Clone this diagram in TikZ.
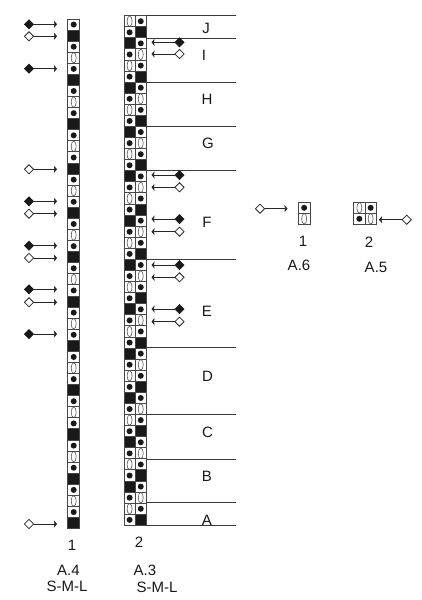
\documentclass[tikz,border=0pt]{standalone}
\usepackage{fontspec}
\setmainfont{Liberation Sans}
\usetikzlibrary{arrows.meta,shapes.geometric}
\tikzset{
  cellbox/.style={draw=black!72,line width=1pt},
  blackcell/.style={cellbox,fill=black!90},
  dotmark/.style={fill=black!90,draw=none},
  ovalmark/.style={draw=black!65,line width=0.6pt},
  band/.style={draw=black!78,line width=1pt},
  solidd/.style={diamond,aspect=1,draw=black!90,fill=black!90,line width=0.5pt,inner sep=0pt,minimum size=9.5pt},
  hollowd/.style={diamond,aspect=1,draw=black!85,fill=white,line width=0.8pt,inner sep=0pt,minimum size=9.5pt},
  pointer/.style={draw=black!85,line width=1pt,-{Stealth[length=3pt,width=7pt,inset=0.5pt]},shorten <=-0.3pt},
  txt/.style={inner sep=0pt,font=\fontsize{15pt}{15pt}\selectfont,text=black!90},
}
% \cellat{x}{y}{w}{h}{kind} kind: 0 dot, 1 black, 2 oval
\newcommand{\cellat}[5]{%
  \ifnum#5=1
    \path[blackcell] (#1,#2) rectangle ++(#3,#4);
  \else
    \path[cellbox,fill=white] (#1,#2) rectangle ++(#3,#4);
    \ifnum#5=0
      \path[dotmark] (#1+#3/2,#2+#4/2) circle (3pt);
    \else
      \path[ovalmark] (#1+#3/2,#2+#4/2) ellipse (2.5pt and 5.3pt);
    \fi
  \fi}
\begin{document}
\begin{tikzpicture}[x=1pt,y=-1pt]
\path[use as bounding box,fill=white] (0,0) rectangle (422,600);
% column 1 (A.4)
\pgfmathsetmacro{\hh}{11.08}
\foreach \i in {0,...,45}{
  \pgfmathtruncatemacro{\m}{mod(\i,4)}
  \pgfmathsetmacro{\yy}{19+\i*\hh}
  \ifnum\m=0 \cellat{67.7}{\yy}{12}{\hh}{0}\fi
  \ifnum\m=1 \cellat{67.7}{\yy}{12}{\hh}{1}\fi
  \ifnum\m=2 \cellat{67.7}{\yy}{12}{\hh}{0}\fi
  \ifnum\m=3 \cellat{67.7}{\yy}{12}{\hh}{2}\fi
}
% column 2 (A.3)
\foreach \i in {0,...,45}{
  \pgfmathtruncatemacro{\m}{mod(\i,4)}
  \pgfmathsetmacro{\yy}{15.7+\i*\hh}
  \ifnum\m=0 \cellat{124}{\yy}{11.2}{\hh}{2}\cellat{135.2}{\yy}{11.1}{\hh}{0}\fi
  \ifnum\m=1 \cellat{124}{\yy}{11.2}{\hh}{0}\cellat{135.2}{\yy}{11.1}{\hh}{1}\fi
  \ifnum\m=2 \cellat{124}{\yy}{11.2}{\hh}{1}\cellat{135.2}{\yy}{11.1}{\hh}{0}\fi
  \ifnum\m=3 \cellat{124}{\yy}{11.2}{\hh}{0}\cellat{135.2}{\yy}{11.1}{\hh}{2}\fi
}
% band rules
\foreach \y in {15.7,38,82,126.7,170.7,259.3,347.7,414.3,459,502.7,525.7}
  \draw[band] (146.3,\y) -- (236,\y);
% band letters
\foreach \l/\x/\y in {J/206/28,I/204/55,H/207/99,G/208/143,F/207/222,E/207/311,D/207.5/376,C/207.5/432,B/207/476,A/207/520}
  \node[txt] at (\x,\y) {\l};
% left pointers
\foreach \n/\y/\k in {a/24.3/solidd,b/36.3/hollowd,c/68.7/solidd,d/169.3/hollowd,e/201.3/solidd,f/213.7/hollowd,g/245.7/solidd,h/258/hollowd,i/289.3/solidd,j/302.3/hollowd,k/334/solidd,l/524/hollowd}{
  \node[\k] (L\n) at (29,\y) {};
  \coordinate (LT\n) at (57,\y);
  \draw[pointer] (L\n) -- (LT\n);
}
% right pointers
\foreach \n/\y/\k in {a/42.3/solidd,b/54/hollowd,c/175/solidd,d/187.3/hollowd,e/219/solidd,f/231.7/hollowd,g/265/solidd,h/277.3/hollowd,i/309/solidd,j/321.7/hollowd}{
  \node[\k] (R\n) at (179.5,\y) {};
  \coordinate (RT\n) at (151.5,\y);
  \draw[pointer] (R\n) -- (RT\n);
}
% A.6
\cellat{298.3}{202.3}{11.7}{11}{0}
\cellat{298.3}{213.3}{11.7}{11}{2}
\node[hollowd] (s1) at (260,208.7) {};
\coordinate (s1t) at (287.5,208.7);
\draw[pointer] (s1) -- (s1t);
% A.5
\cellat{353.7}{202.3}{11.3}{11}{2}
\cellat{365}{202.3}{11.3}{11}{0}
\cellat{353.7}{213.3}{11.3}{11}{0}
\cellat{365}{213.3}{11.3}{11}{2}
\node[hollowd] (s2) at (406.7,219.7) {};
\coordinate (s2t) at (379,219.7);
\draw[pointer] (s2) -- (s2t);
% captions
\node[txt] at (72,545.7) {1};
\node[txt] at (139,542.7) {2};
\node[txt] at (68.5,570) {A.4};
\node[txt] at (67,586.7) {S-M-L};
\node[txt] at (145,570) {A.3};
\node[txt] at (157,587) {S-M-L};
\node[txt] at (303,241) {1};
\node[txt] at (369,242) {2};
\node[txt] at (299,265.5) {A.6};
\node[txt] at (376,267) {A.5};
\end{tikzpicture}
\end{document}
